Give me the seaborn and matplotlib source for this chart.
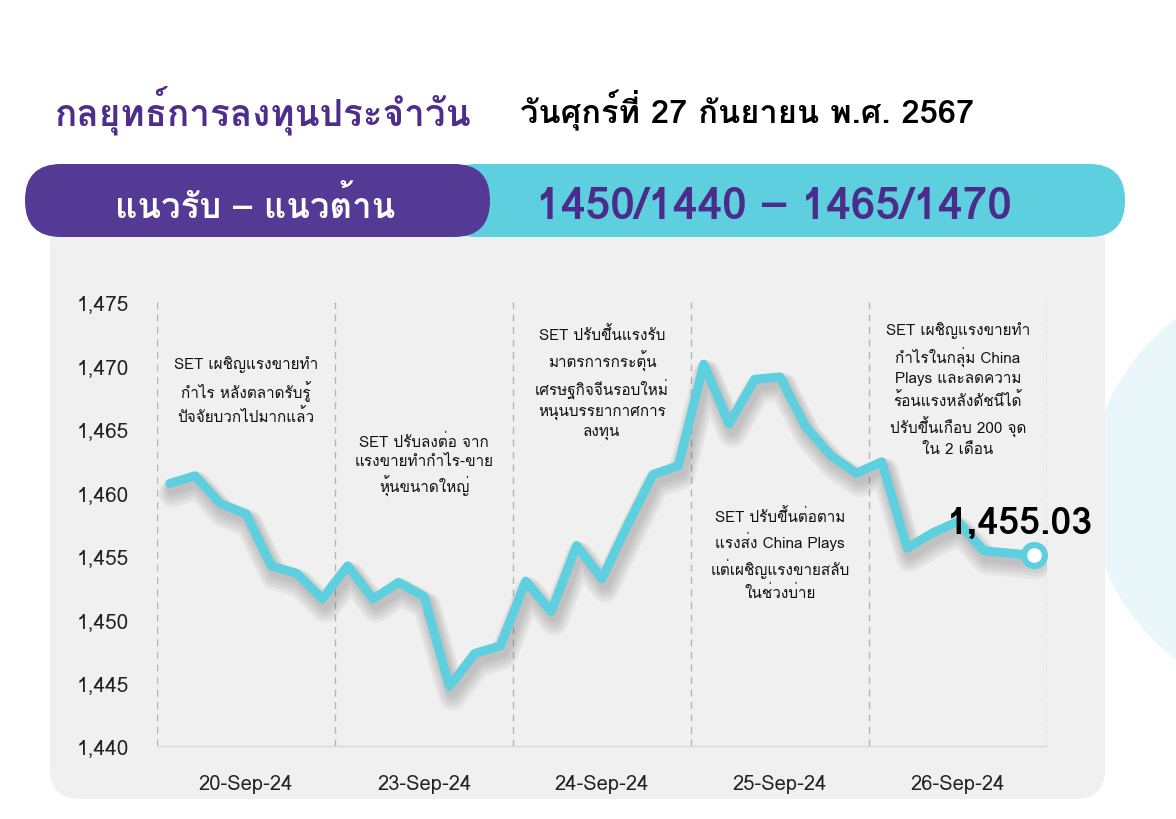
import numpy as np
import pandas as pd
import seaborn as sns
import matplotlib.pyplot as plt
import matplotlib.transforms as mtransforms
from matplotlib import font_manager
from matplotlib.ft2font import FT2Font
from matplotlib.patches import FancyBboxPatch, Ellipse

# datos
dias = ['20-Sep-24', '23-Sep-24', '24-Sep-24', '25-Sep-24', '26-Sep-24']
set_index = [1460.7, 1461.3, 1459.1, 1458.3, 1454.2, 1453.6, 1451.6,
             1454.2, 1451.6, 1452.9, 1451.8, 1444.7, 1447.3, 1447.9,
             1453.0, 1450.6, 1455.8, 1453.2, 1457.4, 1461.4, 1462.1,
             1470.1, 1465.4, 1468.9, 1469.1, 1465.2, 1462.9, 1461.5,
             1462.4, 1455.6, 1456.8, 1457.7, 1455.4, 1455.2, 1455.03]
y_ticks = [1440, 1445, 1450, 1455, 1460, 1465, 1470, 1475]
notas = ['SET เผชิญแรงขายทำ\nกำไร หลังตลาดรับรู้\nปัจจัยบวกไปมากแล้ว',
         'SET ปรับลงต่อ จาก\nแรงขายทำกำไร-ขาย\nหุ้นขนาดใหญ่',
         'SET ปรับขึ้นแรงรับ\nมาตรการกระตุ้น\nเศรษฐกิจจีนรอบใหม่\nหนุนบรรยากาศการ\nลงทุน',
         'SET ปรับขึ้นต่อตาม\nแรงส่ง China Plays\nแต่เผชิญแรงขายสลับ\nในช่วงบ่าย',
         'SET เผชิญแรงขายทำ\nกำไรในกลุ่ม China\nPlays และลดความ\nร้อนแรงหลังดัชนีได้\nปรับขึ้นเกือบ 200 จุด\nใน 2 เดือน']
nota_y = [1468.1, 1462.2, 1468.7, 1455.2, 1468.2]
titulo = 'กลยุทธ์การลงทุนประจำวัน'
fecha = 'วันศุกร์ที่ 27 กันยายน พ.ศ. 2567'
banda_txt = 'แนวรับ – แนวต้าน'
banda_val = '1450/1440 – 1465/1470'
ultimo = '1,455.03'

CYAN = '#5ECFDF'
PURPLE = '#553A95'


def fuente_thai():
    '''Busca una familia instalada con glifos tailandeses'''
    for f in font_manager.fontManager.ttflist:
        try:
            if 0x0E01 in FT2Font(f.fname).get_charmap():
                return f.name
        except Exception:
            pass
    return 'DejaVu Sans'


sns.set_style('white')
thai = fuente_thai()
plt.rcParams['font.family'] = [thai, 'DejaVu Sans']

fig = plt.figure(figsize=(11.76, 8.2), dpi=100)

# fondo en pixeles
bg = fig.add_axes([0, 0, 1, 1])
bg.set_xlim(0, 1176)
bg.set_ylim(820, 0)
bg.axis('off')
bg.add_patch(Ellipse((1310, 490), 440, 430, color='#EAF7FA', lw=0))
bg.add_patch(FancyBboxPatch((50, 215), 1055, 585, boxstyle='round,pad=0,rounding_size=30',
                            color='#F0F0F0', lw=0))
bg.add_patch(FancyBboxPatch((440, 165), 685, 73, boxstyle='round,pad=0,rounding_size=36',
                            color=CYAN, lw=0))
bg.add_patch(FancyBboxPatch((25, 165), 465, 73, boxstyle='round,pad=0,rounding_size=36',
                            color=PURPLE, lw=0))
bg.text(55, 110, titulo, fontsize=26.5, fontweight='bold', color='#4E2D8C', va='center')
bg.text(520, 110, fecha, fontsize=23.5, fontweight='bold', color='black', va='center')
bg.text(255, 205, banda_txt, fontsize=25, fontweight='bold', color='white', ha='center', va='center')
bg.text(774, 207, banda_val, fontsize=32, fontweight='heavy', color='#4B2C8A', ha='center', va='center')

# grafico
ax = fig.add_axes([157 / 1176, 73 / 820, 890 / 1176, 444 / 820])
ax.set_facecolor('none')
df = pd.DataFrame({'pos': np.arange(len(set_index)) + 0.5, 'SET': set_index})

# sombra difusa
for dy, w in [(-6, 8), (-7, 11), (-8, 14), (-9, 17), (-10, 20)]:
    sombra = mtransforms.offset_copy(ax.transData, fig=fig, x=3, y=dy, units='dots')
    ax.plot(df['pos'], df['SET'], color='#444444', lw=w, alpha=0.06, transform=sombra,
            solid_capstyle='round')
sns.lineplot(data=df, x='pos', y='SET', ax=ax, color=CYAN, linewidth=6.5)
ax.plot(df['pos'].iloc[-1], df['SET'].iloc[-1], 'o', ms=15, mfc='white', mec=CYAN, mew=4.5)

for b in range(0, 36, 7):
    ax.axvline(b, color='#B5B5B5', lw=1, ls=(0, (5, 4)), zorder=0)

for i, txt in enumerate(notas):
    ax.text(3.5 + 7 * i, nota_y[i], txt, ha='center', va='center', fontsize=11,
            color='#111111', linespacing=1.45)

ax.text(33.95, 1457.6, ultimo, ha='center', va='center', fontsize=27,
        fontweight='heavy', color='black')

ax.set_xlim(0, 35)
ax.set_ylim(1440, 1475)
ax.set_yticks(y_ticks, [f'{v:,}' for v in y_ticks])
ax.set_xticks([3.5 + 7 * i for i in range(5)], dias)
ax.set_xticks(range(0, 36, 7), minor=True)
ax.tick_params(axis='y', length=0, pad=20, labelsize=15, labelcolor='#222222')
ax.tick_params(axis='x', which='major', length=0, pad=20, labelsize=14.5, labelcolor='#222222')
ax.tick_params(axis='x', which='minor', length=5, direction='in', color='#D0D0D0')
ax.set_xlabel('')
ax.set_ylabel('')
sns.despine(ax=ax, left=True)
ax.spines['bottom'].set_color('#D5D5D5')

fig.savefig('out.png', dpi=100)
